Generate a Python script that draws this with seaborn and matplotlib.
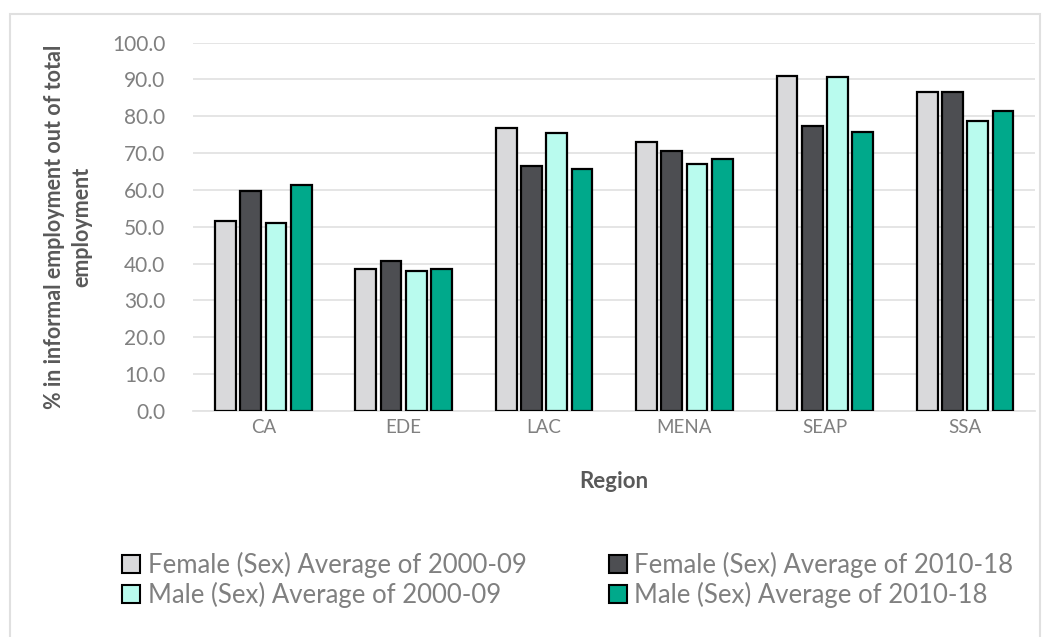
import pandas as pd
import matplotlib.pyplot as plt
import matplotlib.patches as mpatches
import seaborn as sns

# Valores
regioes = ["CA", "EDE", "LAC", "MENA", "SEAP", "SSA"]
series = ["Female (Sex) Average of 2000-09", "Female (Sex) Average of 2010-18",
          "Male (Sex) Average of 2000-09", "Male (Sex) Average of 2010-18"]
fem_2000_09 = [51.5, 38.5, 76.8, 73.1, 91.0, 86.5]
fem_2010_18 = [59.8, 40.8, 66.4, 70.7, 77.5, 86.7]
mal_2000_09 = [51.1, 38.1, 75.4, 67.0, 90.6, 78.8]
mal_2010_18 = [61.3, 38.5, 65.6, 68.3, 75.8, 81.5]
cores = ["#D9D9DB", "#4D4E52", "#B9FBEE", "#00A98B"]

df = pd.DataFrame({
    "Region": regioes * 4,
    "serie": [s for s in series for _ in regioes],
    "valor": fem_2000_09 + fem_2010_18 + mal_2000_09 + mal_2010_18,
})

sns.set_theme(style="white")
plt.rcParams["font.family"] = ["Lato", "DejaVu Sans"]

fig = plt.figure(figsize=(10.5, 6.37), dpi=100)
ax = fig.add_axes([0.184, 0.355, 0.802, 0.578])

sns.barplot(data=df, x="Region", y="valor", hue="serie", hue_order=series,
            palette=cores, saturation=1, width=0.72, gap=0.18, edgecolor="black",
            linewidth=1.6, ax=ax, legend=False, zorder=3)

ax.set_ylim(0, 100)
ax.set_yticks(range(0, 101, 10))
ax.set_yticklabels([f"{v:.1f}" for v in range(0, 101, 10)])
ax.yaxis.grid(True, color="#E3E3E3", linewidth=1.3, zorder=0)
ax.set_axisbelow(True)
for s in ["top", "right", "left"]:
    ax.spines[s].set_visible(False)
ax.spines["bottom"].set_color("#E3E3E3")
ax.spines["bottom"].set_linewidth(1.3)
ax.tick_params(axis="x", length=0, labelsize=13.5, labelcolor="#808080", pad=6)
ax.tick_params(axis="y", length=0, labelsize=15, labelcolor="#808080", pad=20)

ax.set_xlabel("Region", fontsize=16, fontweight="bold", color="#595959", labelpad=25)
ax.set_ylabel("% in informal employment out of total\nemployment", fontsize=15.5,
              fontweight="bold", color="#595959", labelpad=14, linespacing=1.4)

# ordem das colunas da legenda: coluna 1 = 2000-09, coluna 2 = 2010-18
ordem = [0, 2, 1, 3]
handles = [mpatches.Patch(facecolor=cores[i], edgecolor="black", linewidth=1.5, label=series[i])
           for i in ordem]
leg = fig.legend(handles=handles, ncol=2, loc="lower left", bbox_to_anchor=(0.094, 0.01),
                 frameon=False, fontsize=18.5, handlelength=0.7, handleheight=0.7,
                 handletextpad=0.3, columnspacing=3.2, labelspacing=0.12)
for t in leg.get_texts():
    t.set_color("#808080")

# moldura externa estilo Excel
fig.patches.append(mpatches.Rectangle((10 / 1050, -0.02), 1030 / 1050, 1 - 14 / 637 + 0.02,
                                      transform=fig.transFigure, fill=False,
                                      edgecolor="#E0E0E0", linewidth=1.5))

plt.savefig("out.png", dpi=100)
